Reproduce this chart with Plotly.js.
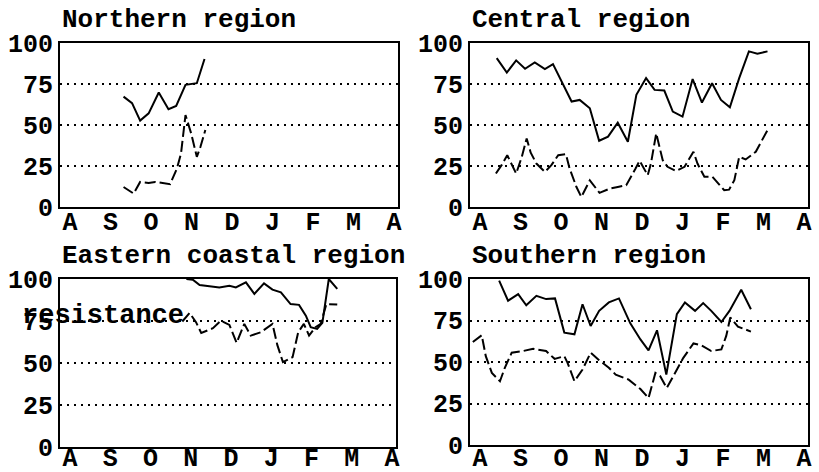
<!DOCTYPE html>
<html>
<head>
<meta charset="utf-8">
<script src="https://cdn.plot.ly/plotly-3.0.1.min.js"></script>
<style>
  html, body { margin: 0; padding: 0; background: #fff; }
  #chart { width: 819px; height: 472px; }
</style>
</head>
<body>
<div id="chart"></div>
<script>
// Month tick labels (August to April)
const monthTicks = ['A', 'S', 'O', 'N', 'D', 'J', 'F', 'M', 'A'];
const yTicks = [0, 25, 50, 75, 100];
const panelTitles = ['Northern region', 'Central region', 'Eastern coastal region', 'Southern region'];

// x = months since start of August; y = percent
const northSolidX = [1.32, 1.53, 1.73, 1.94, 2.19, 2.43, 2.62, 2.85, 3.13, 3.32];
const northSolidY = [67.3, 63.3, 52.7, 57.1, 69.8, 59.6, 61.6, 74.5, 75.5, 90.2];
const northDashX = [1.32, 1.57, 1.73, 1.94, 2.10, 2.31, 2.47, 2.64, 2.74, 2.85, 2.99, 3.13, 3.22, 3.34];
const northDashY = [12.2, 8.2, 15.3, 14.7, 15.3, 14.3, 13.9, 23.5, 32.7, 56.1, 44.9, 30.6, 36.7, 46.9];

const centralSolidX = [0.41, 0.66, 0.89, 1.11, 1.35, 1.60, 1.80, 2.01, 2.26, 2.46, 2.71, 2.94, 3.16, 3.40, 3.65, 3.86, 4.10, 4.31, 4.55, 4.76, 5.00, 5.25, 5.48, 5.73, 5.95, 6.17, 6.40, 6.64, 6.85, 7.10];
const centralSolidY = [90.8, 82.0, 89.4, 84.3, 88.2, 84.1, 87.1, 76.5, 64.3, 65.3, 60.2, 40.4, 42.9, 51.4, 39.8, 68.4, 78.6, 71.4, 71.0, 58.2, 55.1, 78.0, 63.7, 75.5, 65.3, 60.8, 78.6, 94.9, 93.5, 94.9];
const centralDashX = [0.39, 0.53, 0.67, 0.89, 1.03, 1.15, 1.25, 1.39, 1.60, 1.76, 1.93, 2.12, 2.21, 2.38, 2.50, 2.71, 2.95, 3.20, 3.40, 3.61, 3.84, 3.94, 4.14, 4.22, 4.35, 4.51, 4.63, 4.84, 5.05, 5.27, 5.37, 5.54, 5.74, 6.03, 6.15, 6.28, 6.40, 6.56, 6.81, 7.10];
const centralDashY = [20.4, 25.5, 31.6, 20.4, 30.6, 41.8, 33.1, 26.5, 21.4, 25.5, 31.6, 32.2, 23.5, 12.2, 6.1, 16.3, 8.6, 11.2, 12.2, 13.3, 23.5, 28.2, 19.4, 26.5, 44.9, 28.6, 24.5, 22.0, 24.5, 33.7, 26.5, 18.4, 18.4, 10.2, 10.6, 16.3, 30.6, 29.0, 33.7, 46.9];

const eastSolidX = [2.89, 3.05, 3.22, 3.42, 3.71, 3.96, 4.12, 4.37, 4.58, 4.82, 5.03, 5.24, 5.48, 5.69, 5.86, 5.98, 6.14, 6.27, 6.33, 6.43, 6.64];
const eastSolidY = [100, 99.6, 96.4, 96.0, 95.0, 96.0, 95.0, 98.0, 91.1, 97.4, 93.7, 92.1, 85.1, 84.6, 78.2, 71.3, 70.3, 73.9, 83.2, 100, 94.1];
const eastDashX = [2.79, 2.97, 3.13, 3.26, 3.55, 3.75, 3.96, 4.14, 4.33, 4.49, 4.74, 5.03, 5.15, 5.29, 5.53, 5.67, 5.81, 5.94, 6.10, 6.23, 6.37, 6.64];
const eastDashY = [74.7, 79.8, 74.3, 67.9, 70.7, 75.2, 72.7, 62.0, 73.3, 66.3, 68.3, 73.3, 60.8, 50.5, 53.5, 68.3, 73.3, 66.3, 71.3, 73.3, 85.1, 84.8];

const southSolidX = [0.47, 0.69, 0.94, 1.14, 1.39, 1.63, 1.85, 2.08, 2.33, 2.53, 2.73, 2.94, 3.18, 3.43, 3.71, 3.96, 4.16, 4.37, 4.60, 4.86, 5.06, 5.31, 5.51, 5.71, 5.96, 6.16, 6.45, 6.69];
const southSolidY = [99.0, 86.9, 90.9, 84.2, 89.9, 87.9, 88.3, 67.7, 66.7, 84.8, 71.7, 80.8, 85.9, 88.3, 73.3, 63.6, 57.0, 69.1, 42.4, 78.8, 85.9, 80.8, 85.5, 80.8, 74.1, 80.8, 93.5, 81.8];
const southDashX = [-0.18, 0.04, 0.14, 0.29, 0.49, 0.61, 0.78, 1.06, 1.31, 1.63, 1.84, 2.08, 2.16, 2.33, 2.53, 2.73, 2.94, 3.18, 3.35, 3.67, 3.96, 4.16, 4.33, 4.45, 4.61, 4.82, 5.02, 5.27, 5.47, 5.71, 5.96, 6.08, 6.18, 6.37, 6.49, 6.69];
const southDashY = [62.0, 66.1, 53.5, 43.4, 38.4, 46.5, 55.6, 56.6, 58.0, 56.6, 51.9, 53.5, 49.5, 38.4, 45.5, 55.6, 51.1, 46.5, 42.4, 39.4, 33.7, 28.3, 43.4, 41.4, 34.3, 43.4, 52.5, 61.2, 60.0, 56.6, 57.6, 65.7, 76.8, 71.3, 70.1, 68.3];

const FONT = '"Liberation Mono", "Courier New", "DejaVu Sans Mono", monospace';
const W = 819, H = 472;

const panels = [
  {sx: northSolidX, sy: northSolidY, dx: northDashX, dy: northDashY, box: [60, 398, 43, 207], xoff: -9},
  {sx: centralSolidX, sy: centralSolidY, dx: centralDashX, dy: centralDashY, box: [470, 808, 43, 207], xoff: -9},
  {sx: eastSolidX, sy: eastSolidY, dx: eastDashX, dy: eastDashY, box: [60, 396, 279, 447], xoff: -13},
  {sx: southSolidX, sy: southSolidY, dx: southDashX, dy: southDashY, box: [470, 808, 279, 445], xoff: -11}
];

const traces = [];
const layout = {
  width: W, height: H,
  margin: {l: 0, r: 0, t: 0, b: 0},
  paper_bgcolor: '#fff', plot_bgcolor: '#fff',
  showlegend: false,
  font: {family: FONT, size: 25, color: '#000', weight: 'bold'},
  annotations: []
};

panels.forEach((p, i) => {
  const n = i === 0 ? '' : String(i + 1);
  traces.push({x: p.sx, y: p.sy, xaxis: 'x' + n, yaxis: 'y' + n, mode: 'lines',
    line: {color: '#000', width: 2}, hoverinfo: 'skip'});
  traces.push({x: p.dx, y: p.dy, xaxis: 'x' + n, yaxis: 'y' + n, mode: 'lines',
    line: {color: '#000', width: 2, dash: '11px,4px'}, hoverinfo: 'skip'});
  const [x0, x1, y0, y1] = p.box;
  layout['xaxis' + n] = {
    domain: [x0 / W, x1 / W], anchor: 'y' + n, range: [-0.25, 8.1],
    tickmode: 'array', tickvals: monthTicks.map((_, k) => k), ticktext: monthTicks,
    showgrid: false, zeroline: false, showline: true, mirror: true, linecolor: '#000', linewidth: 2,
    ticks: '', ticklabelstandoff: p.xoff,
    tickfont: {family: FONT, size: 25, color: '#000', weight: 'bold'}, fixedrange: true
  };
  layout['yaxis' + n] = {
    domain: [1 - y1 / H, 1 - y0 / H], anchor: 'x' + n, range: [0, 100],
    tickmode: 'array', tickvals: yTicks, ticktext: yTicks.map(String),
    showgrid: true, gridcolor: '#000', gridwidth: 2, griddash: '2px,5px',
    zeroline: false, showline: true, mirror: true, linecolor: '#000', linewidth: 2,
    ticks: '', ticklabelstandoff: 0,
    tickfont: {family: FONT, size: 25, color: '#000', weight: 'bold'}, fixedrange: true
  };
  layout.annotations.push({
    text: panelTitles[i], xref: 'paper', yref: 'paper',
    x: x0 / W, y: 1 - (y0 - 6) / H, xanchor: 'left', yanchor: 'bottom',
    showarrow: false, font: {family: FONT, size: 26, color: '#000', weight: 'bold'}
  });
});

layout.annotations.push({
  text: 'resistance', xref: 'paper', yref: 'paper',
  x: 20 / W, y: 1 - 316 / H, xanchor: 'left', yanchor: 'middle',
  showarrow: false, font: {family: FONT, size: 27, color: '#000', weight: 'bold'}
});

Plotly.newPlot('chart', traces, layout, {displayModeBar: false, staticPlot: true});
</script>
</body>
</html>
